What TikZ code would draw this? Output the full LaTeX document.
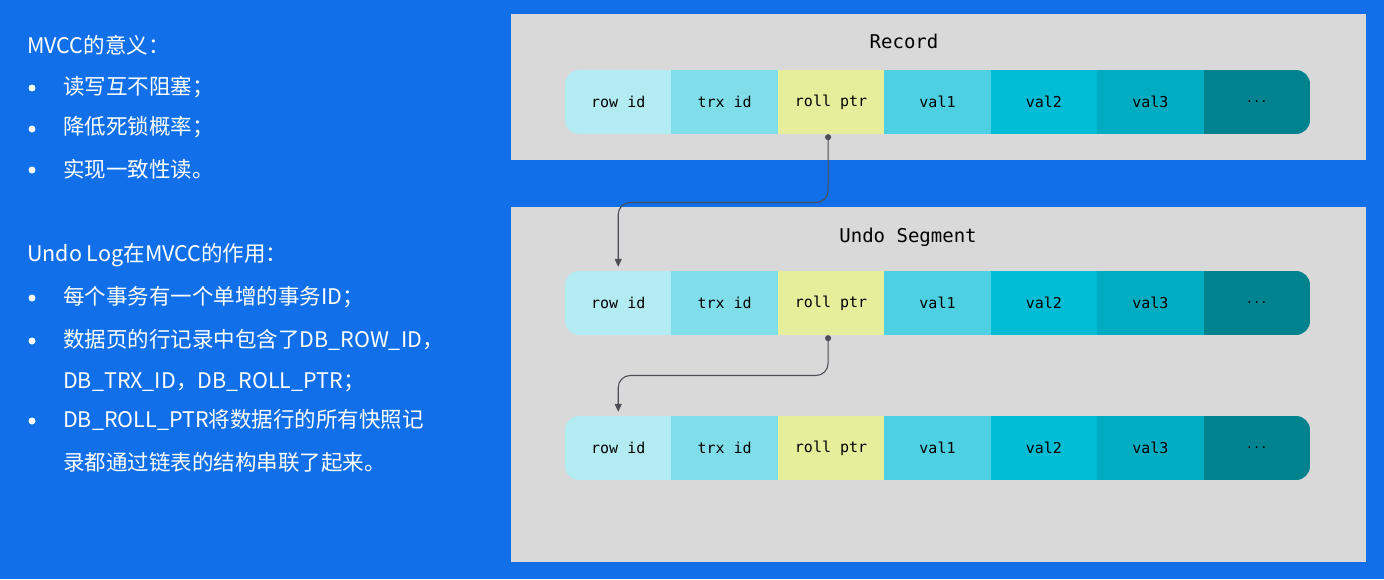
\documentclass[tikz,border=0pt]{standalone}
\usepackage{fontspec}
\setmainfont{Noto Sans CJK SC}
\newfontfamily\cellfont{DejaVu Sans Mono}
\definecolor{slideblue}{RGB}{17,112,233}
\definecolor{panelgray}{RGB}{217,217,217}
\definecolor{linkgray}{RGB}{77,77,85}
\definecolor{cellrow}{HTML}{B2EBF2}
\definecolor{celltrx}{HTML}{80DEEA}
\definecolor{cellptr}{HTML}{E6EE9C}
\definecolor{cellvalA}{HTML}{4DD0E1}
\definecolor{cellvalB}{HTML}{00BCD4}
\definecolor{cellvalC}{HTML}{00ACC1}
\definecolor{cellmore}{HTML}{00838F}
\newcommand{\moredots}{{\fontsize{12}{14}\selectfont...}}
\usetikzlibrary{arrows.meta,positioning,calc}

\begin{document}
\begin{tikzpicture}[x=1pt,y=-1pt,
  panel/.style={fill=panelgray},
  cell/.style={rectangle, minimum width=106.6pt, minimum height=64pt, inner sep=0pt, font=\cellfont\fontsize{15}{17}\selectfont, text=black},
  segtitle/.style={font=\cellfont\fontsize{19}{22}\selectfont, text=black},
  txt/.style={text=white, font=\fontsize{21.5}{24}\selectfont, anchor=west, inner sep=0pt},
  dot/.style={circle, fill=white, minimum size=7pt, inner sep=0pt},
  ptr/.style={{Circle[length=6pt]}-{Triangle[length=8pt,width=7pt]}, draw=linkgray, line width=1.1pt, rounded corners=12pt, shorten >=4pt}
]
  \fill[slideblue] (0,0) rectangle (1384,579);
  \useasboundingbox (0,0) rectangle (1384,579);

  % left column
  \node[txt] (head1) at (27,45) {MVCC的意义：};
  \node[dot] (d1) at (32,88) {};
  \node[txt] (t1) at (63,87) {读写互不阻塞；};
  \node[dot] (d2) at (32,129) {};
  \node[txt] (t2) at (63,127) {降低死锁概率；};
  \node[dot] (d3) at (32,170) {};
  \node[txt] (t3) at (63,169) {实现一致性读。};

  \node[txt] (head2) at (27,255) {Undo Log在MVCC的作用：};
  \node[dot] (d4) at (32,298) {};
  \node[txt] (t4) at (63,297) {每个事务有一个单增的事务ID；};
  \node[dot] (d5) at (32,341) {};
  \node[txt] (t5) at (63,340) {数据页的行记录中包含了DB\_ROW\_ID，};
  \node[txt] (t5b) at (63,382) {DB\_TRX\_ID，DB\_ROLL\_PTR；};
  \node[dot] (d6) at (32,421) {};
  \node[txt] (t6) at (63,420) {DB\_ROLL\_PTR将数据行的所有快照记};
  \node[txt] (t6b) at (63,462) {录都通过链表的结构串联了起来。};

  % panels
  \fill[panel] (511,14) rectangle (1366,160);
  \fill[panel] (511,207) rectangle (1366,562);
  \node[segtitle] (rec) at (904,41) {Record};
  \node[segtitle] (undo) at (908,237) {Undo Segment};

  % rows of fields
  \foreach \r/\yc in {1/102,2/303,3/448} {
    \begin{scope}
      \clip[rounded corners=14pt] (565,\yc-32) rectangle (1310,\yc+32);
      \foreach \lbl/\col [count=\i] in {row id/cellrow,trx id/celltrx,roll ptr/cellptr,val1/cellvalA,val2/cellvalB,val3/cellvalC,\moredots/cellmore}
        \node[cell, fill=\col] (r\r-\i) at ({565+106.43*(\i-0.5)},\yc) {\lbl};
    \end{scope}
  }

  % roll pointers
  \draw[ptr] ([xshift=-3pt]r1-3.south) |- ($(r1-3.south)!0.5!(r2-1.north)$) -| (r2-1.north);
  \draw[ptr] ([xshift=-3pt]r2-3.south) |- ($(r2-3.south)!0.5!(r3-1.north)$) -| (r3-1.north);
\end{tikzpicture}
\end{document}
